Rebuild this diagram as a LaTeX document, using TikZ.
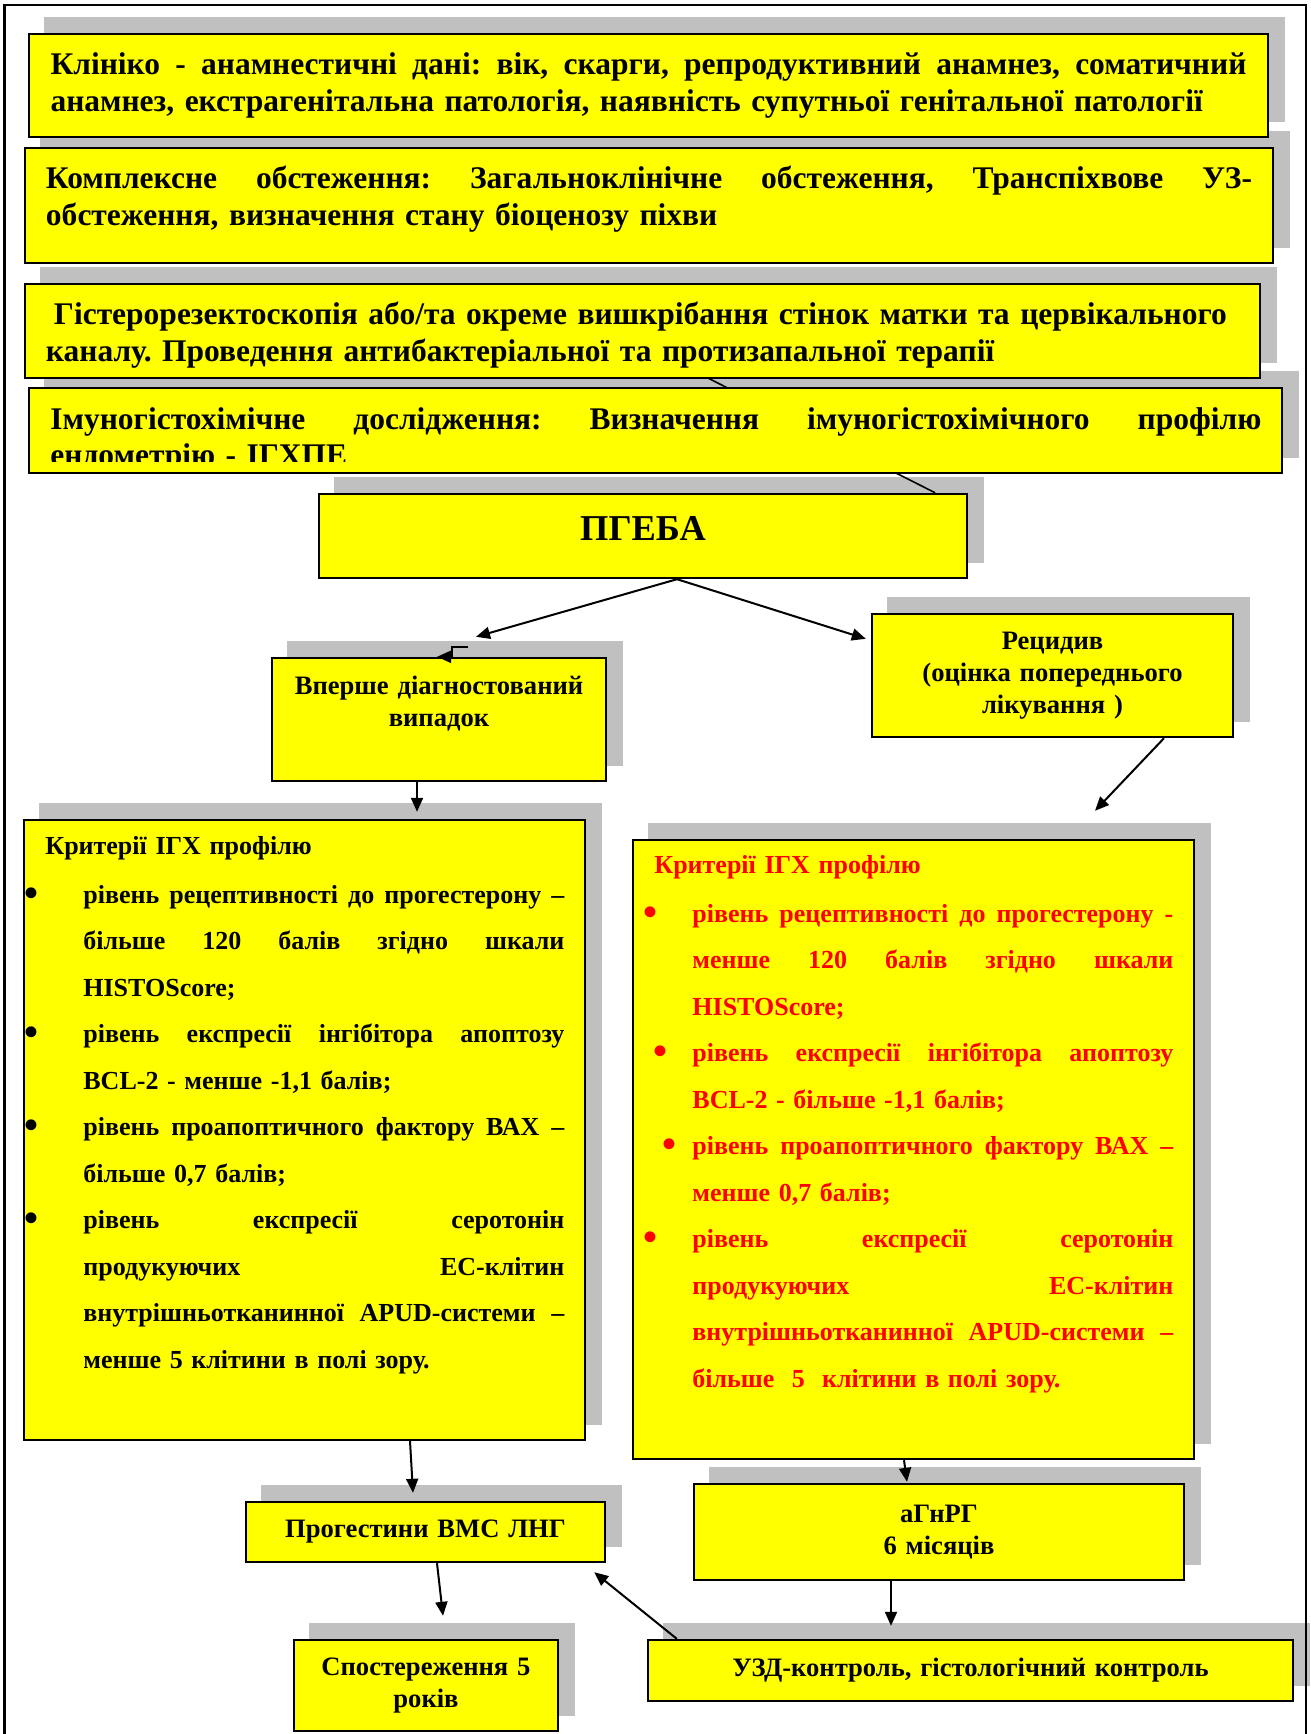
\documentclass[tikz,border=0pt]{standalone}
\usepackage{fontspec}
\setmainfont{Liberation Serif}
\usetikzlibrary{arrows.meta, calc}
\definecolor{boxyellow}{HTML}{FFFF00}
\definecolor{shadowgrey}{HTML}{C0C0C0}
\definecolor{critred}{HTML}{FF0000}
\pgfdeclarelayer{back}
\pgfsetlayers{back,main}
% lines of a box text: stretched, natural, bulleted
\newcommand{\jline}[2]{\noindent\hbox to #1{\spaceskip=0.25em plus 1fil minus 0.05em\relax #2}\par}
\newcommand{\fline}[1]{\noindent\mbox{#1}\par}
\newcommand{\bline}[2]{\noindent\llap{\raisebox{-1.5pt}{\fontsize{20}{20}\selectfont\textbullet}\hspace{#1}}\hbox to 240.5pt{\spaceskip=0.25em plus 1fil minus 0.05em\relax #2}\par}

\begin{document}
\frenchspacing
\begin{tikzpicture}[
    x=0.5pt, y=-0.5pt,
    corners/.style n args={4}{minimum width={(#3-#1)*0.5pt}, minimum height={(#4-#2)*0.5pt}, at={({(#1+#3)/2},{(#2+#4)/2})}},
    box/.style={draw, line width=1.2pt, fill=boxyellow, inner sep=0pt},
    wide/.style={box, align=left, font=\fontsize{15.75}{18.4}\selectfont\bfseries},
    small/.style={box, align=center, font=\fontsize{13.3}{16}\selectfont\bfseries},
    crit/.style={anchor=base west, inner sep=0pt, align=left, text width=240.5pt, font=\fontsize{13}{23.25}\selectfont\bfseries},
    shade/.style={fill=shadowgrey},
    arrow/.style={-{Triangle[length=7pt, width=6pt]}, line width=1pt},
]
\useasboundingbox (0,0) rectangle (1311,1734);

% Frame
\draw[line width=1.2pt] (4.5,1734) -- (4.5,5) -- (1306,5) -- (1306,1734);

% Top boxes
\node[wide, text width=598pt, text depth=21.9pt, corners={29}{34}{1268}{137}] (clin) {%
\jline{598pt}{Клініко - анамнестичні дані: вік, скарги, репродуктивний анамнез, соматичний}
\fline{анамнез, екстрагенітальна патологія, наявність супутньої генітальної патології}};
\node[wide, text width=603pt, text depth=28.4pt, corners={25}{148}{1273}{263}] (compl) {%
\jline{603pt}{Комплексне обстеження: Загальноклінічне обстеження, Транспіхвове УЗ-}
\fline{обстеження, визначення стану біоценозу піхви}};
\node[wide, text width=596.5pt, text depth=17.9pt, corners={25}{284}{1260}{378}] (hyst) {%
\fline{\hspace*{4pt}Гістерорезектоскопія або/та окреме вишкрібання стінок матки та цервікального}
\fline{каналу. Проведення антибактеріальної та протизапальної терапії}};
\node[box, corners={29}{388}{1282}{473}] (imm) {};
\begin{scope}
\clip (32,391) rectangle (1279,461);
\node[anchor=base west, inner sep=0pt, align=left, text width=605.5pt, font=\fontsize{15.75}{18}\selectfont\bfseries] (immt) at (50,429) {%
\jline{605.5pt}{Імуногістохімічне дослідження: Визначення імуногістохімічного профілю}
\fline{ендометрію - ІГХПЕ}};
\end{scope}

% Branch boxes
\node[box, font=\fontsize{18.2}{22}\selectfont\bfseries, text depth=8pt, corners={319}{494}{967}{578}] (pgeba) {ПГЕБА};
\node[small, text width=160pt, text depth=34.5pt, corners={272}{658}{606}{781}] (vpershe) {Вперше діагностований\\випадок};
\node[small, text width=175pt, corners={872}{614}{1233}{737}] (recid) {Рецидив\\(оцінка попереднього\\лікування )};

% Criteria boxes
\node[box, corners={24}{820}{585}{1440}] (crit1) {};
\node[box, corners={633}{840}{1194}{1459}] (crit2) {};
\node[crit] (crit1t) at (83,854) {%
\noindent\hspace*{-19pt}Критерії ІГХ профілю\par\vspace{1.25pt}
\bline{22.5pt}{рівень рецептивності до прогестерону –}
\jline{240.5pt}{більше 120 балів згідно шкали}
\fline{HISTOScore;}
\bline{22.5pt}{рівень експресії інгібітора апоптозу}
\fline{BCL-2 - менше -1,1 балів;}
\bline{22.5pt}{рівень проапоптичного фактору ВАХ –}
\fline{більше 0,7 балів;}
\bline{22.5pt}{рівень експресії серотонін}
\jline{240.5pt}{продукуючих ЕС-клітин}
\jline{240.5pt}{внутрішньотканинної APUD-системи –}
\fline{менше 5 клітини в полі зору.}};
\node[crit, text=critred] (crit2t) at (692,873) {%
\noindent\hspace*{-19pt}Критерії ІГХ профілю\par\vspace{1.25pt}
\bline{17.3pt}{рівень рецептивності до прогестерону -}
\jline{240.5pt}{менше 120 балів згідно шкали}
\fline{HISTOScore;}
\bline{12.3pt}{рівень експресії інгібітора апоптозу}
\fline{BCL-2 - більше -1,1 балів;}
\bline{7.8pt}{рівень проапоптичного фактору ВАХ –}
\fline{менше 0,7 балів;}
\bline{17.3pt}{рівень експресії серотонін}
\jline{240.5pt}{продукуючих ЕС-клітин}
\jline{240.5pt}{внутрішньотканинної APUD-системи –}
\fline{більше\ \ 5\ \ клітини в полі зору.}};

% Bottom boxes
\node[small, text width=175pt, corners={246}{1502}{605}{1562}] (prog) {Прогестини ВМС ЛНГ};
\node[small, text width=240pt, corners={694}{1484}{1184}{1580}] (agnrg) {аГнРГ\\6 місяців};
\node[small, text width=130pt, corners={294}{1640}{558}{1731}] (obs) {Спостереження 5\\років};
\node[small, text width=320pt, corners={648}{1640}{1293}{1701}] (uzd) {УЗД-контроль, гістологічний контроль};

% Shadows and the hidden line
\begin{pgfonlayer}{back}
\foreach \b in {clin,compl,hyst,imm,pgeba,vpershe,recid,crit1,crit2,prog,agnrg,obs,uzd}
  \fill[shade] ([shift={(16,-16)}]\b.south west) rectangle ([shift={(16,-16)}]\b.north east);
\draw[line width=0.8pt] ($(hyst.center)+(0,14)$) -- ($(pgeba.north east)+(-33,0)$);
\end{pgfonlayer}

% Arrows
\draw[arrow] ($(pgeba.south)+(34,0)$) -- ($(vpershe.north)+(37,-20)$);
\draw[arrow] ($(pgeba.south)+(34,0)$) -- ($(recid.north west)+(-5,26)$);
\draw[arrow] ($(vpershe.north)+(29,-10)$) -| ($(vpershe.north)+(13,0)$) -- ($(vpershe.north)+(-2,0)$);
\draw[arrow] ($(vpershe.south)+(-22,0)$) -- ($(crit1.north)+(112.5,-7)$);
\draw[arrow] ($(recid.south)+(111.5,0)$) -- ($(crit2.north)+(181.5,-28)$);
\draw[arrow] ($(crit1.south)+(105.5,0)$) -- ($(prog.north)+(-12.5,-8)$);
\draw[arrow] ($(crit2.south)+(-9.5,0)$) -- ($(agnrg.north)+(-32,-1)$);
\draw[arrow] ($(prog.south)+(11.5,0)$) -- ($(obs.north)+(17,-23)$);
\draw[arrow] ($(agnrg.south)+(-48,0)$) -- ($(uzd.north)+(-79.5,-13)$);
\draw[arrow] ($(uzd.north west)+(30,0)$) -- ($(prog.south east)+(-12,9)$);

\end{tikzpicture}
\end{document}
